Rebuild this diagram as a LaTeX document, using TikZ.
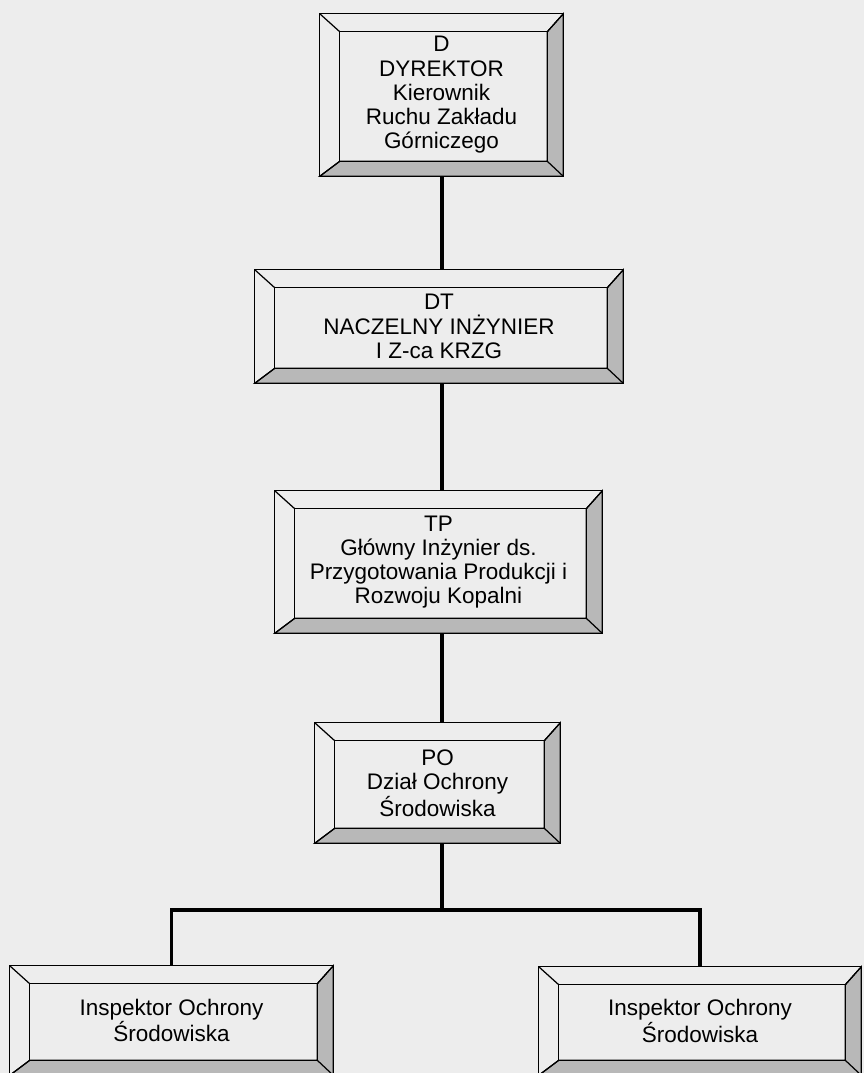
\documentclass[tikz,border=0pt]{standalone}
\usepackage{fontspec}
\setmainfont{Liberation Sans}
\usetikzlibrary{calc}
\newcommand{\pxu}{0.02cm}
\tikzset{
  orgbox/.style={align=center, inner sep=0pt, font=\fontsize{12.8}{13.8}\selectfont},
  link/.style={line width=1.8pt, line join=miter},
  bevel/.style={fill=black!28, draw=black, line width=0.7pt},
  frameline/.style={draw=black, line width=0.7pt},
}

\begin{document}
\begin{tikzpicture}[x=0.02cm, y=-0.02cm]
\useasboundingbox (0,0) rectangle (864,1073);
\clip (0,0) rectangle (864,1073);
\fill[black!7] (0,0) rectangle (864,1073);

\node[orgbox, minimum width=243*\pxu, minimum height=162*\pxu] (d) at (441.5,95)
  {D\\DYREKTOR\\Kierownik\\Ruchu Zakładu\\Górniczego};
\node[orgbox, minimum width=368*\pxu, minimum height=113*\pxu] (dt) at (439,326.5)
  {DT\\NACZELNY INŻYNIER\\I Z-ca KRZG};
\node[orgbox, minimum width=327*\pxu, minimum height=142*\pxu] (tp) at (438.5,562)
  {TP\\Główny Inżynier ds.\\Przygotowania Produkcji i\\Rozwoju Kopalni};
\node[orgbox, minimum width=245*\pxu, minimum height=120*\pxu] (po) at (437.5,783)
  {PO\\Dział Ochrony\\Środowiska};
\node[orgbox, minimum width=323*\pxu, minimum height=109*\pxu] (il) at (171.5,1020.5)
  {Inspektor Ochrony\\Środowiska};
\node[orgbox, minimum width=322*\pxu, minimum height=108*\pxu] (ir) at (700,1021)
  {Inspektor Ochrony\\Środowiska};

% bevelled frames
\foreach \n in {d,dt,tp,po,il,ir}{
  \path ($(\n.north west)+(20,18)$) coordinate (iNW)
        ($(\n.north east)+(-16,18)$) coordinate (iNE)
        ($(\n.south east)+(-16,-15)$) coordinate (iSE)
        ($(\n.south west)+(20,-15)$) coordinate (iSW);
  \filldraw[bevel] (\n.north east) -- (\n.south east) -- (\n.south west) -- (iSW) -- (iSE) -- (iNE) -- cycle;
  \draw[frameline] (\n.north west) rectangle (\n.south east);
  \draw[frameline] (iNW) rectangle (iSE);
  \draw[frameline] (\n.north west) -- (iNW) (\n.north east) -- (iNE)
    (\n.south east) -- (iSE) (\n.south west) -- (iSW);
}

\coordinate (br) at (442,910);
\draw[link] (br |- d.south) -- (br |- dt.north);
\draw[link] (br |- dt.south) -- (br |- tp.north);
\draw[link] (br |- tp.south) -- (br |- po.north);
\draw[link] (br |- po.south) -- (br);
\draw[link] (il.north) |- (br) -| (ir.north);
\end{tikzpicture}
\end{document}
